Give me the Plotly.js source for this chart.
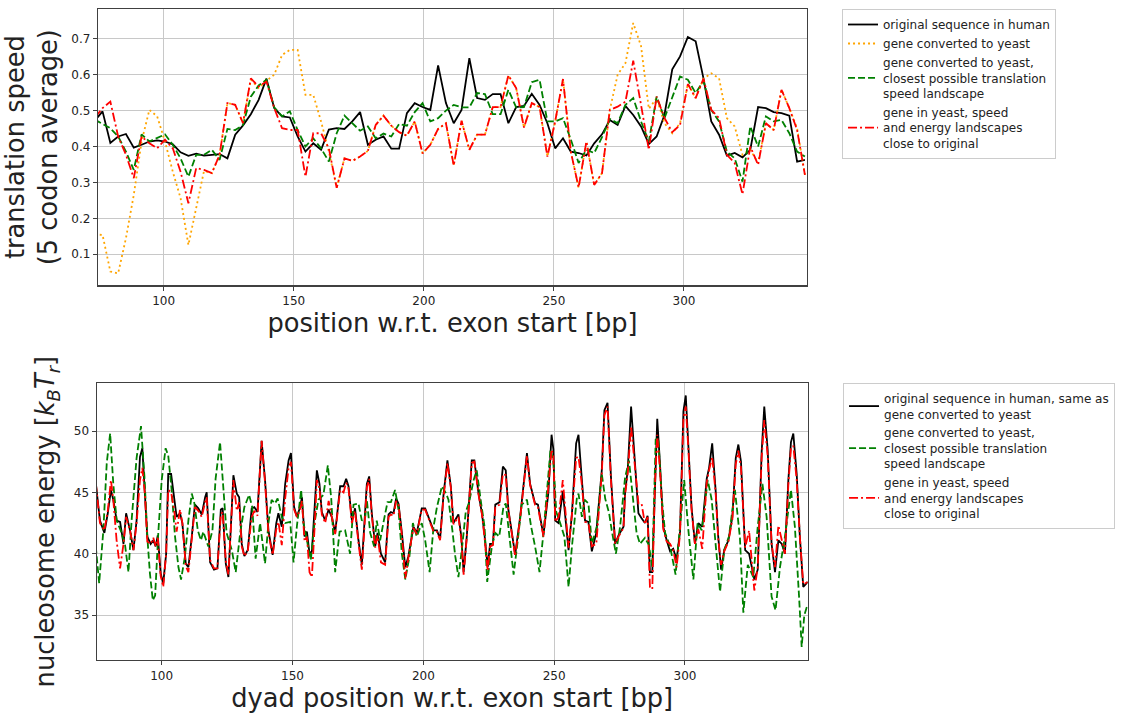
<!DOCTYPE html>
<html>
<head>
<meta charset="utf-8">
<script src="https://cdn.plot.ly/plotly-3.0.1.min.js"></script>
<style>html,body{margin:0;padding:0;background:#fff}#chart{width:1126px;height:714px}</style>
</head>
<body>
<div id="chart"></div>
<script>
// ---------- top panel: translation speed (5 codon average) ----------
const speedPos = [73.5,76.5,79.5,82.5,85.5,88.5,91.5,94.5,97.5,100.5,103.5,106.5,109.5,112.5,115.5,118.5,121.5,124.5,127.5,130.5,133.5,136.5,139.5,142.5,145.5,148.5,151.5,154.5,157.5,160.5,163.5,166.5,169.5,172.5,175.5,178.5,181.5,184.5,187.5,190.5,193.5,196.5,199.5,202.5,205.5,208.5,211.5,214.5,217.5,220.5,223.5,226.5,229.5,232.5,235.5,238.5,241.5,244.5,247.5,250.5,253.5,256.5,259.5,262.5,265.5,268.5,271.5,274.5,277.5,280.5,283.5,286.5,289.5,292.5,295.5,298.5,301.5,304.5,307.5,310.5,313.5,316.5,319.5,322.5,325.5,328.5,331.5,334.5,337.5,340.5,343.5,346.5];
const speedHuman = [0.472,0.498,0.410,0.428,0.435,0.397,0.405,0.414,0.417,0.414,0.406,0.384,0.374,0.380,0.375,0.377,0.379,0.367,0.433,0.459,0.490,0.530,0.589,0.507,0.484,0.481,0.428,0.386,0.409,0.391,0.447,0.451,0.449,0.470,0.496,0.405,0.419,0.428,0.394,0.394,0.493,0.521,0.510,0.502,0.626,0.521,0.465,0.502,0.646,0.535,0.530,0.546,0.546,0.465,0.510,0.513,0.547,0.516,0.465,0.395,0.423,0.386,0.382,0.375,0.409,0.434,0.474,0.460,0.513,0.488,0.456,0.407,0.428,0.488,0.615,0.651,0.705,0.693,0.590,0.470,0.433,0.375,0.382,0.370,0.391,0.510,0.507,0.496,0.493,0.486,0.358,0.363];
const speedYeast = [0.155,0.154,0.052,0.047,0.145,0.265,0.414,0.502,0.484,0.414,0.330,0.256,0.126,0.228,0.332,0.326,0.377,0.521,0.516,0.465,0.586,0.563,0.583,0.600,0.655,0.669,0.669,0.544,0.544,0.470,0.386,0.285,0.367,0.360,0.372,0.388,0.460,0.486,0.458,0.440,0.430,0.470,0.381,0.405,0.449,0.465,0.347,0.472,0.391,0.433,0.433,0.510,0.510,0.598,0.563,0.453,0.521,0.510,0.372,0.470,0.588,0.386,0.286,0.414,0.293,0.326,0.502,0.600,0.632,0.744,0.680,0.505,0.535,0.465,0.437,0.465,0.574,0.535,0.589,0.604,0.590,0.479,0.456,0.377,0.391,0.354,0.465,0.446,0.558,0.507,0.451,0.321];
const speedClosest = [0.475,0.462,0.451,0.428,0.386,0.335,0.434,0.414,0.425,0.434,0.405,0.367,0.316,0.377,0.377,0.391,0.363,0.449,0.446,0.460,0.539,0.570,0.586,0.509,0.484,0.498,0.446,0.400,0.423,0.395,0.358,0.437,0.486,0.465,0.444,0.456,0.423,0.436,0.428,0.463,0.458,0.496,0.521,0.470,0.479,0.500,0.516,0.509,0.509,0.549,0.546,0.490,0.490,0.558,0.509,0.510,0.579,0.586,0.470,0.470,0.479,0.420,0.354,0.391,0.382,0.426,0.477,0.465,0.516,0.535,0.470,0.414,0.539,0.479,0.539,0.595,0.586,0.549,0.583,0.502,0.470,0.386,0.367,0.302,0.456,0.400,0.484,0.470,0.474,0.437,0.386,0.372];
const speedBoth = [0.480,0.507,0.525,0.428,0.377,0.312,0.428,0.409,0.395,0.419,0.395,0.330,0.242,0.340,0.335,0.326,0.377,0.521,0.516,0.465,0.590,0.567,0.581,0.507,0.451,0.446,0.446,0.316,0.437,0.437,0.395,0.285,0.367,0.360,0.372,0.388,0.460,0.486,0.458,0.440,0.430,0.470,0.381,0.405,0.449,0.465,0.347,0.472,0.391,0.433,0.433,0.510,0.510,0.598,0.563,0.453,0.521,0.510,0.372,0.470,0.588,0.386,0.286,0.414,0.293,0.326,0.502,0.511,0.525,0.639,0.516,0.391,0.539,0.480,0.440,0.460,0.574,0.535,0.589,0.502,0.479,0.377,0.354,0.267,0.400,0.349,0.465,0.446,0.558,0.507,0.446,0.321];

// ---------- bottom panel: nucleosome energy ----------
const humanPos = [74.8,76.4,78.1,79.4,80.6,81.5,82.8,84.1,85.4,86.4,87.9,89.2,90.4,91.7,92.6,93.6,94.5,95.8,96.8,97.7,98.5,99.6,100.6,101.7,102.5,103.6,104.8,105.7,107.0,107.9,109.2,110.2,111.5,112.7,114.0,115.3,116.6,117.2,118.5,120.0,121.3,122.6,123.3,124.5,125.5,127.4,128.7,129.6,130.6,131.6,132.9,134.4,135.4,136.6,138.2,139.5,140.8,142.4,143.8,144.6,145.9,147.2,148.5,149.4,150.6,151.7,152.9,153.6,154.6,155.5,156.5,157.4,158.4,159.3,160.3,161.2,162.5,163.8,165.0,166.3,168.2,169.5,170.5,171.4,172.7,173.9,175.2,176.5,178.4,179.3,180.3,181.6,182.5,183.8,185.4,186.7,187.6,188.6,189.6,190.5,191.8,193.1,194.3,196.2,197.5,199.4,200.7,202.6,203.9,205.2,206.4,207.7,209.2,210.5,211.5,213.4,214.5,215.4,216.6,218.5,219.5,221.1,222.4,223.4,224.6,225.5,226.6,227.5,229.1,230.4,231.5,232.5,235.1,237.0,239.6,240.8,242.7,243.8,245.9,247.8,249.0,249.7,250.4,251.7,253.3,255.5,256.8,258.4,259.3,260.6,261.8,263.1,264.4,266.1,267.2,268.2,269.2,270.4,271.7,273.3,274.6,276.5,277.1,278.1,279.4,280.6,282.2,283.4,284.7,285.7,286.6,287.5,288.5,289.4,290.4,291.7,293.0,294.3,295.5,296.8,298.1,299.4,300.3,301.3,302.5,303.8,305.1,306.6,308.3,309.2,310.4,311.7,312.7,313.8,315.0,316.6,318.1,319.4,320.4,321.4,323.0,324.5,326.5,327.8,329.3,330.3,331.6,333.1,334.4,335.7,337.0,338.2,339.5,340.5,341.4,342.7,343.9,345.2,346.9];
const energyHuman = [45.8,42.7,41.7,43.3,45.2,44.4,42.7,42.6,40.8,43.3,41.9,40.3,42.7,47.9,48.6,45.2,41.4,40.8,41.1,40.6,41.5,38.4,37.6,40.0,46.5,46.5,44.4,43.0,43.3,42.5,39.2,38.9,41.4,44.0,43.7,43.2,44.6,45.0,39.3,38.7,38.8,43.6,43.7,39.2,38.1,46.4,44.9,44.6,40.8,39.8,40.3,43.7,43.8,43.4,49.2,46.0,41.9,39.9,42.5,43.3,42.2,45.7,47.6,48.2,43.8,43.0,43.8,44.6,41.4,41.8,40.0,40.2,43.6,46.8,45.7,43.4,42.7,43.6,43.0,41.7,45.5,45.5,46.1,45.5,42.7,43.7,41.1,39.1,45.7,46.3,43.3,40.6,41.7,40.0,39.3,43.2,43.4,43.3,44.5,44.1,41.7,38.9,39.8,42.2,41.7,43.7,43.7,42.7,41.9,41.9,41.2,44.8,47.6,45.5,42.5,43.2,41.4,38.5,41.4,47.6,47.6,44.9,43.3,41.5,38.9,40.8,40.8,44.0,44.2,47.1,46.8,43.6,39.9,43.0,48.2,45.7,44.1,44.0,41.5,45.0,49.7,48.5,42.7,42.5,45.1,40.3,43.3,49.0,49.7,46.0,42.7,42.6,40.2,41.7,44.1,46.8,51.7,52.3,46.3,40.8,41.5,42.2,45.0,46.8,52.0,47.9,43.3,42.9,42.5,43.1,38.5,38.5,46.0,51.0,47.5,42.2,41.1,40.2,40.4,39.5,41.8,51.6,52.9,49.1,43.8,40.8,42.5,42.2,46.1,47.0,49.0,45.2,41.4,38.7,40.3,41.1,43.0,47.8,48.9,47.5,40.3,40.0,37.9,38.7,48.3,52.0,48.5,40.8,38.5,41.1,40.8,40.0,46.0,49.1,49.8,46.5,41.4,37.3,37.7];
const energyBoth = [45.8,42.5,41.9,43.5,46.0,44.4,41.0,38.8,40.8,43.0,41.9,40.3,42.5,46.0,47.0,44.8,41.0,40.8,41.3,40.6,41.3,38.2,37.3,40.0,45.2,45.0,43.5,41.8,43.6,42.5,39.0,38.5,41.2,43.8,43.5,43.0,44.2,44.6,39.5,38.8,38.8,43.2,43.4,39.4,38.3,46.0,43.5,44.2,40.6,39.8,40.2,43.0,43.5,43.1,49.2,45.8,41.6,39.9,42.0,42.6,40.7,44.5,47.0,47.5,43.6,43.0,43.6,44.3,41.0,41.4,38.5,38.1,42.0,46.0,45.3,43.2,42.5,44.3,43.0,41.6,45.2,45.0,45.8,45.3,42.5,43.5,40.9,38.7,45.4,46.1,43.1,40.5,41.5,39.3,39.1,43.0,43.2,43.1,44.3,44.0,41.5,38.0,39.7,42.1,41.6,43.6,43.6,42.6,41.8,41.8,41.1,44.6,47.4,45.4,42.4,43.0,41.2,38.3,41.3,47.4,47.5,44.8,43.2,41.3,38.6,40.6,40.7,43.8,44.0,46.5,46.4,43.5,39.8,42.9,48.0,45.6,44.0,43.8,41.4,45.5,48.5,48.0,42.6,43.0,46.0,40.5,43.2,47.8,47.9,45.6,42.6,42.5,40.6,40.8,43.8,46.5,51.3,52.0,46.0,40.8,41.4,42.1,44.8,46.5,50.4,47.5,44.1,44.1,42.4,43.0,37.3,37.1,45.5,49.7,47.0,42.0,41.0,40.8,40.3,38.9,41.6,51.0,52.0,48.5,43.6,40.8,42.0,40.4,45.8,46.8,47.9,45.0,41.2,39.1,40.2,41.0,42.8,47.3,48.4,47.0,40.5,41.9,37.0,38.9,47.8,50.9,48.0,40.8,38.9,42.3,41.0,40.0,45.6,48.6,48.8,46.0,41.4,37.5,37.7];
const closestPos = [74.8,76.1,77.7,79.0,80.3,81.5,82.8,84.5,86.0,87.3,88.5,90.4,92.1,93.4,94.6,95.5,96.6,97.5,98.7,100.0,101.5,102.5,103.8,105.1,106.4,107.4,108.9,110.2,111.5,112.5,113.8,115.0,115.9,117.8,119.4,120.6,122.3,123.6,124.8,126.8,128.3,130.0,131.6,133.4,134.6,135.9,137.6,139.5,140.8,142.0,143.3,144.3,145.9,147.2,149.1,150.4,151.7,153.3,154.2,155.5,157.0,158.4,159.9,161.8,163.5,164.8,166.3,168.0,170.1,172.0,173.3,175.2,176.5,177.8,178.4,179.7,181.2,182.2,183.5,184.8,186.3,187.6,189.2,190.5,191.8,193.1,194.7,196.0,197.5,199.4,200.7,202.4,203.9,205.2,207.1,208.7,209.6,211.1,212.2,213.4,214.7,216.2,217.5,219.2,220.4,222.1,223.4,224.4,226.2,227.5,229.0,230.6,231.5,232.9,234.5,236.1,237.6,239.6,241.2,242.7,244.4,245.9,247.6,248.6,249.7,250.8,252.3,253.9,255.5,256.8,258.7,259.3,260.6,261.6,263.1,264.4,266.3,268.2,269.5,271.0,272.0,273.6,275.2,277.1,278.6,279.9,281.5,282.8,284.7,286.2,287.5,288.8,289.8,291.1,292.4,294.3,296.4,298.1,299.7,301.3,303.2,304.8,306.4,308.7,310.2,311.7,313.4,315.0,316.8,319.1,321.0,322.3,324.0,326.1,327.8,329.6,331.2,333.1,334.6,336.3,338.2,340.5,342.0,343.6,344.6,345.6,346.9];
const energyClosest = [40.6,37.6,41.9,47.4,49.8,45.7,42.7,41.8,40.7,38.5,42.7,47.8,50.4,46.3,41.1,38.4,36.2,36.6,41.7,46.0,48.6,48.0,45.2,41.4,38.9,37.9,39.8,42.7,44.9,44.1,41.9,41.1,41.8,40.6,41.9,46.1,49.1,45.2,41.7,40.3,38.5,41.7,43.8,44.8,43.8,39.6,42.5,39.2,42.5,44.4,44.1,44.5,43.0,42.5,42.6,39.3,42.3,45.2,42.5,41.1,39.5,42.5,44.4,44.8,47.2,44.5,38.5,41.8,41.9,40.0,44.0,44.1,42.7,43.0,44.4,41.7,40.6,42.7,41.1,42.6,44.2,44.2,45.2,43.6,40.0,37.9,39.8,42.5,41.4,42.5,41.1,38.5,42.2,43.8,45.5,44.9,44.4,41.9,39.8,38.1,40.3,43.4,44.2,46.0,46.8,44.1,42.2,37.7,40.6,41.7,41.4,43.8,44.1,41.4,38.3,41.1,44.0,44.4,42.2,40.6,38.5,41.7,46.0,48.5,47.5,43.4,42.5,41.4,37.3,40.6,44.6,44.9,43.0,44.4,44.1,40.8,42.2,46.5,44.5,43.3,41.9,40.0,42.2,46.2,47.6,44.9,41.7,40.8,41.3,40.7,38.9,49.3,49.4,44.6,41.7,40.6,38.3,42.2,46.0,41.9,37.9,42.5,41.9,46.0,44.4,40.8,36.9,40.3,41.4,45.2,41.3,35.2,39.1,38.1,42.2,45.7,43.0,36.5,35.4,38.9,41.4,45.2,42.2,36.5,32.4,35.0,35.9];

const speedTicks = [0.1,0.2,0.3,0.4,0.5,0.6,0.7];
const energyTicks = [35,40,45,50];
const posTicks = [100,150,200,250,300];

const FONT = 'DejaVu Sans, sans-serif';
const BLACK = '#000000', ORANGE = '#ffa500', GREEN = '#008000', RED = '#ff0000';
const LW = 1.8;

const traces = [
  {x: speedPos, y: speedHuman, xaxis:'x', yaxis:'y', legend:'legend', mode:'lines',
   name:'original sequence in human', line:{color:BLACK, width:LW}},
  {x: speedPos, y: speedYeast, xaxis:'x', yaxis:'y', legend:'legend', mode:'lines',
   name:'gene converted to yeast', line:{color:ORANGE, width:LW, dash:'2px,3px'}},
  {x: speedPos, y: speedClosest, xaxis:'x', yaxis:'y', legend:'legend', mode:'lines',
   name:'gene converted to yeast,<br>closest possible translation<br>speed landscape', line:{color:GREEN, width:LW, dash:'7px,3px'}},
  {x: speedPos, y: speedBoth, xaxis:'x', yaxis:'y', legend:'legend', mode:'lines',
   name:'gene in yeast, speed<br>and energy landscapes<br>close to original', line:{color:RED, width:LW, dash:'9px,3px,2px,3px'}},

  {x: humanPos, y: energyHuman, xaxis:'x2', yaxis:'y2', legend:'legend2', mode:'lines',
   name:'original sequence in human, same as<br>gene converted to yeast', line:{color:BLACK, width:LW}},
  {x: closestPos, y: energyClosest, xaxis:'x2', yaxis:'y2', legend:'legend2', mode:'lines',
   name:'gene converted to yeast,<br>closest possible translation<br>speed landscape', line:{color:GREEN, width:LW, dash:'7px,3px'}},
  {x: humanPos, y: energyBoth, xaxis:'x2', yaxis:'y2', legend:'legend2', mode:'lines',
   name:'gene in yeast, speed<br>and energy landscapes<br>close to original', line:{color:RED, width:LW, dash:'9px,3px,2px,3px'}}
];

const axisCommon = {
  showline:true, mirror:true, linecolor:'#404040', linewidth:1.2,
  showgrid:true, gridcolor:'#c8c8c8', gridwidth:1,
  ticks:'outside', ticklen:4, tickcolor:'#404040', tickwidth:1,
  zeroline:false, tickfont:{family:FONT, size:12, color:'#222'}
};

const TITLE_FONT = {family:FONT, size:25.7, color:'#222'};

const legendCommon = {
  xanchor:'left', yanchor:'top', bgcolor:'#ffffff', bordercolor:'#cccccc', borderwidth:1,
  font:{family:FONT, size:12, color:'#222'}, tracegroupgap:4, itemwidth:30
};

const layout = {
  width:1126, height:714,
  margin:{l:0, r:0, t:0, b:0},
  paper_bgcolor:'#ffffff', plot_bgcolor:'#ffffff',
  font:{family:FONT, color:'#222'},
  showlegend:true,
  xaxis: Object.assign({}, axisCommon, {
    domain:[0.08703, 0.71670], anchor:'y', range:[74.75, 347.3],
    tickvals: posTicks,
    title:{text:'position w.r.t. exon start [bp]', font:TITLE_FONT, standoff:6}
  }),
  yaxis: Object.assign({}, axisCommon, {
    domain:[0.60042, 0.98739], anchor:'x', range:[0.0136, 0.783],
    tickvals: speedTicks, ticktext: speedTicks.map(v => v.toFixed(1)),
    title:{text:'translation speed<br>(5 codon average)', font:TITLE_FONT, standoff:6}
  }),
  xaxis2: Object.assign({}, axisCommon, {
    domain:[0.08588, 0.71732], anchor:'y2', range:[75.16, 346.9],
    tickvals: posTicks,
    title:{text:'dyad position w.r.t. exon start [bp]', font:TITLE_FONT, standoff:6}
  }),
  yaxis2: Object.assign({}, axisCommon, {
    domain:[0.07563, 0.46317], anchor:'x2', range:[31.34, 53.89],
    tickvals: energyTicks,
    title:{text:'nucleosome energy [<i>k</i><sub><i>B</i></sub><i>T</i><sub><i>r</i></sub>]', font:TITLE_FONT, standoff:11}
  }),
  legend: Object.assign({}, legendCommon, {x:0.7478, y:0.9874}),
  legend2: Object.assign({}, legendCommon, {x:0.7487, y:0.4636})
};

Plotly.newPlot('chart', traces, layout, {staticPlot:true, displayModeBar:false});
</script>
</body>
</html>
